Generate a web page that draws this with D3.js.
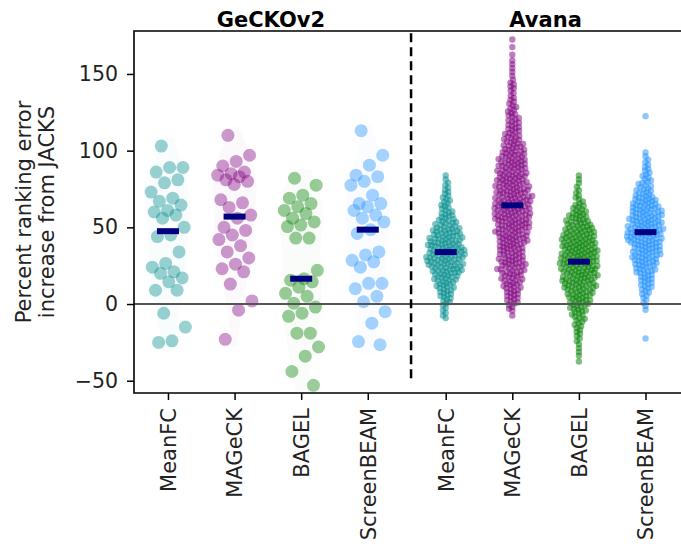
<!DOCTYPE html>
<html>
<head>
<meta charset="utf-8">
<script src="https://cdn.jsdelivr.net/npm/d3@7"></script>
<style>
  body { margin: 0; background: #fff; }
  text { font-family: "DejaVu Sans", sans-serif; }
</style>
</head>
<body>
<script>
// methods and libraries
const methods = ['MeanFC', 'MAGeCK', 'BAGEL', 'ScreenBEAM'];
const libraries = ['GeCKOv2', 'Avana'];

// GeCKOv2: one value per point
const geckoMeanFC = [103, 89, 89, 86, 81, 79, 73, 69, 67, 64.5, 61, 60, 58, 56, 50, 45, 44, 34, 26.5, 24, 21, 20, 17, 14.5, 9, 9, -6, -15, -24, -25];
const geckoMAGeCK = [110, 97, 93, 90, 86, 85, 84, 83, 81, 80, 78, 68, 66, 63, 58, 56, 50, 48, 45, 42, 38, 34, 30, 26, 23, 21, 13, 2, -4, -23];
const geckoBAGEL = [82, 77.5, 71, 69, 65.5, 63.5, 61, 59, 56, 53.5, 51.5, 50.5, 43, 43, 22, 16.5, 15.5, 14.5, 11, 7, 5, 0.5, -2, -6, -8, -19, -19, -28, -34, -44, -53];
const geckoScreenBEAM = [113, 97, 90.5, 84, 83, 80, 77.5, 71, 65.5, 65.5, 63.5, 61, 58, 56, 53.5, 48.5, 46, 34, 32, 28.5, 27.5, 24, 13.5, 13.5, 10, 5, 1.5, -5, -12.5, -24.5, -26.5];

// Avana: too dense to read point by point -> counts per 5-unit bin, first bin start
const avanaBinStart = [-10, -10, -40, -25];
const avanaMeanFC = [3, 3, 6, 8, 10, 13, 17, 19, 20, 19, 17, 15, 11, 8, 6, 5, 4, 3, 2];
const avanaMAGeCK = [1, 4, 7, 8, 10, 11, 13, 14, 13, 14, 16, 17, 18, 19, 19, 19, 18, 17, 16, 15, 15, 13, 11, 9, 8, 7, 6, 5, 4, 3, 4, 2, 2, 2, 1, 1, 1];
const avanaBAGEL = [1, 2, 2, 3, 4, 5, 7, 9, 12, 14, 17, 18, 19, 20, 20, 19, 18, 16, 13, 10, 7, 4, 3, 2, 2];
const avanaScreenBEAM = [1, 0, 0, 0, 2, 3, 5, 7, 8, 11, 13, 15, 16, 19, 19, 18, 17, 16, 13, 9, 7, 5, 4, 3, 2, 0, 0, 0, 0, 1];

const yTicks = [-50, 0, 50, 100, 150];

const width = 681;
const height = 550;
const colors = ['darkcyan', 'purple', 'green', 'dodgerblue'];

const x = d3.scaleLinear().domain([-0.51, 7.85]).range([134, 690.8]);
const y = d3.scaleLinear().domain([-58, 178]).range([393, 31]);
const step = x(1) - x(0);
const gap = 0.17;
const groupPos = (lib, m) => lib * (4 + gap) + m;

const binsToValues = (start, counts) => {
    const vals = [];
    counts.forEach((n, i) => {
        for (let j = 0; j < n; j++) vals.push(start + i * 5 + (j + 0.5) / n * 5);
    });
    return vals;
};

const data = [
    geckoMeanFC, geckoMAGeCK, geckoBAGEL, geckoScreenBEAM
].map((vals, m) => ({ lib: 0, m, vals }))
.concat([avanaMeanFC, avanaMAGeCK, avanaBAGEL, avanaScreenBEAM]
    .map((c, m) => ({ lib: 1, m, vals: binsToValues(avanaBinStart[m], c) })));

// simple beeswarm: each point goes to the free spot closest to the center
const dodge = (ys, dia) => {
    const placed = [];
    return ys.map((py) => {
        const near = placed.filter((p) => Math.abs(p.y - py) < dia);
        const cands = [0];
        near.forEach((p) => {
            const dx = Math.sqrt(dia * dia - (p.y - py) ** 2);
            cands.push(p.x - dx, p.x + dx);
        });
        cands.sort((a, b) => Math.abs(a) - Math.abs(b));
        for (const c of cands) {
            if (near.every((p) => (p.x - c) ** 2 + (p.y - py) ** 2 >= dia * dia - 1e-6)) {
                placed.push({ x: c, y: py });
                return c;
            }
        }
        return 0;
    });
};

const svg = d3.select('body')
    .append('svg')
    .attr('width', width)
    .attr('height', height);

// faint violins
const kde = (vals) => {
    const sd = d3.deviation(vals);
    const bw = sd * Math.pow(vals.length, -0.2);
    const lo = d3.min(vals) - bw * 0.3;
    const hi = d3.max(vals) + bw * 0.3;
    const grid = d3.range(lo, hi, (hi - lo) / 80).concat([hi]);
    return grid.map((g) => [g, d3.sum(vals, (v) => Math.exp(-0.5 * ((g - v) / bw) ** 2))]);
};

data.forEach((d) => {
    const dens = kde(d.vals);
    const maxD = d3.max(dens, (p) => p[1]);
    const cx = x(groupPos(d.lib, d.m));
    const area = d3.area()
        .y((p) => y(p[0]))
        .x0((p) => cx - p[1] / maxD * step * 0.33)
        .x1((p) => cx + p[1] / maxD * step * 0.33)
        .curve(d3.curveBasis);
    svg.append('path')
        .attr('d', area(dens))
        .attr('fill', colors[d.m])
        .attr('fill-opacity', 0.025);
});

// points
data.forEach((d) => {
    const cx = x(groupPos(d.lib, d.m));
    let pts;
    if (d.lib === 0) {
        // jittered strip
        pts = d.vals.map((v, i) => ({
            cx: cx + ((((i * 0.618034 + 0.31) % 1) - 0.5) * 2 * 17.5),
            cy: y(v)
        }));
    } else {
        const sorted = d.vals.slice().sort((a, b) => a - b);
        const ys = sorted.map((v) => y(v));
        const offs = dodge(ys, 3.8);
        pts = ys.map((py, i) => ({ cx: cx + offs[i], cy: py }));
    }
    svg.append('g')
        .selectAll('circle')
        .data(pts)
        .join('circle')
        .attr('cx', (p) => p.cx)
        .attr('cy', (p) => p.cy)
        .attr('r', d.lib === 0 ? 6.5 : 3.2)
        .attr('fill', colors[d.m])
        .attr('fill-opacity', d.lib === 0 ? 0.4 : 0.5);
});

// zero line
svg.append('line')
    .attr('x1', 134).attr('x2', width)
    .attr('y1', y(0)).attr('y2', y(0))
    .attr('stroke', '#555')
    .attr('stroke-width', 2);

// separator
svg.append('line')
    .attr('x1', x(3.65)).attr('x2', x(3.65))
    .attr('y1', y(176.5)).attr('y2', y(-51.5))
    .attr('stroke', 'black')
    .attr('stroke-width', 2.5)
    .attr('stroke-dasharray', '9,5');

// medians
svg.append('g')
    .selectAll('rect')
    .data(data)
    .join('rect')
    .attr('x', (d) => x(groupPos(d.lib, d.m)) - 11)
    .attr('y', (d) => y(d3.median(d.vals)) - 3)
    .attr('width', 22)
    .attr('height', 6)
    .attr('fill', '#000080');

// axes
const yAxis = svg.append('g')
    .attr('transform', 'translate(134,0)')
    .call(d3.axisLeft(y).tickValues(yTicks).tickSize(7).tickPadding(9));
yAxis.select('.domain').remove();
yAxis.selectAll('.tick line').attr('stroke', 'black').attr('stroke-width', 1.5);
yAxis.selectAll('.tick text').attr('font-size', 20.5).attr('fill', '#222');

const xTicks = d3.range(8).map((i) => groupPos(Math.floor(i / 4), i % 4));
const xAxis = svg.append('g')
    .attr('transform', 'translate(0,393)')
    .call(d3.axisBottom(x).tickValues(xTicks).tickSize(7)
        .tickFormat((d, i) => methods[i % 4]));
xAxis.select('.domain').remove();
xAxis.selectAll('.tick line').attr('stroke', 'black').attr('stroke-width', 1.5);
xAxis.selectAll('.tick text')
    .attr('font-size', 21)
    .attr('fill', '#222')
    .attr('text-anchor', 'end')
    .attr('transform', 'rotate(-90)')
    .attr('x', -15)
    .attr('y', 0)
    .attr('dy', '0.35em');

// spines
svg.append('path')
    .attr('d', `M${width + 5},31H134V393H${width + 5}`)
    .attr('fill', 'none')
    .attr('stroke', 'black')
    .attr('stroke-width', 1.6);

// titles
svg.selectAll('.lib')
    .data(libraries)
    .join('text')
    .attr('class', 'lib')
    .attr('x', (d, i) => x(groupPos(i, 1.5)) + (i === 0 ? 3 : 0))
    .attr('y', 27)
    .attr('text-anchor', 'middle')
    .attr('font-size', 21)
    .attr('font-weight', 'bold')
    .text((d) => d);

// y label
const yl = svg.append('text')
    .attr('transform', 'translate(0,212) rotate(-90)')
    .attr('text-anchor', 'middle')
    .attr('font-size', 21)
    .attr('fill', '#222');
yl.append('tspan').attr('x', 0).attr('y', 31).text('Percent ranking error');
yl.append('tspan').attr('x', 0).attr('y', 54).text('increase from JACKS');
</script>
</body>
</html>
